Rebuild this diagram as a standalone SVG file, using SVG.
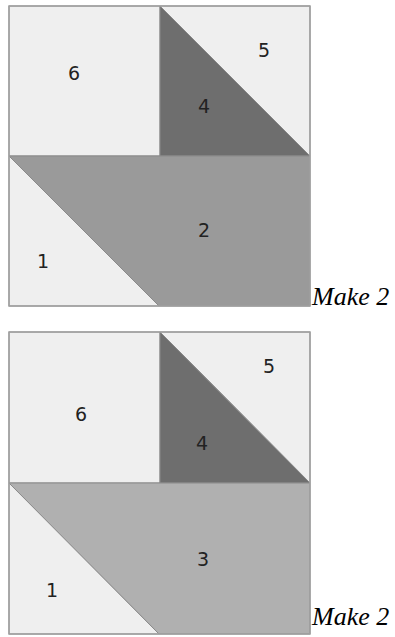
<svg xmlns="http://www.w3.org/2000/svg" width="395" height="637" viewBox="0 0 395 637">
<style>
.lt{fill:#efefef}
.dk{fill:#6e6e6e}
.md{fill:#9a9a9a}
.md2{fill:#b0b0b0}
.p{stroke:#8a8a8a;stroke-width:1}
.frame{fill:none;stroke:#a0a0a0;stroke-width:1.5}
.n{font-family:"DejaVu Sans",Verdana,sans-serif;font-size:19px;fill:#222;text-anchor:middle}
.mk{font-family:"Liberation Serif","Times New Roman",serif;font-style:italic;font-size:26px;fill:#000}
</style>
<rect width="395" height="637" fill="#fff"/>
<g id="block1">
<polygon id="b1p6" class="lt p" points="9,6 160,6 160,156 9,156"/>
<polygon id="b1p5" class="lt p" points="160,6 310,6 310,156"/>
<polygon id="b1p4" class="dk p" points="160,6 310,156 160,156"/>
<polygon id="b1p2" class="md p" points="9,156 310,156 310,306 159,306"/>
<polygon id="b1p1" class="lt p" points="9,156 159,306 9,306"/>
<rect class="frame" x="9" y="6" width="301" height="300"/>
<text class="n" x="74" y="80">6</text>
<text class="n" x="264" y="57">5</text>
<text class="n" x="204" y="113">4</text>
<text class="n" x="204" y="237">2</text>
<text class="n" x="43" y="268">1</text>
<text class="mk" x="312" y="305">Make 2</text>
</g>
<g id="block2">
<polygon id="b2p6" class="lt p" points="9,332 160,332 160,483 9,483"/>
<polygon id="b2p5" class="lt p" points="160,332 310,332 310,483"/>
<polygon id="b2p4" class="dk p" points="160,332 310,483 160,483"/>
<polygon id="b2p3" class="md2 p" points="9,483 310,483 310,634 159,634"/>
<polygon id="b2p1" class="lt p" points="9,483 159,634 9,634"/>
<rect class="frame" x="9" y="332" width="301" height="302"/>
<text class="n" x="81" y="421">6</text>
<text class="n" x="269" y="373">5</text>
<text class="n" x="202" y="450">4</text>
<text class="n" x="203" y="566">3</text>
<text class="n" x="52" y="597">1</text>
<text class="mk" x="312" y="625">Make 2</text>
</g>
</svg>
